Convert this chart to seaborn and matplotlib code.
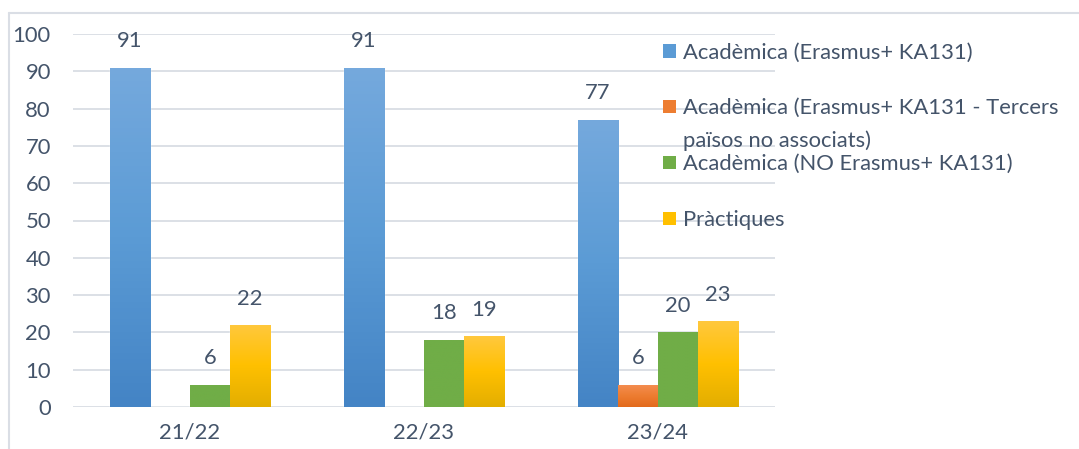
import numpy as np
import pandas as pd
import seaborn as sns
import matplotlib.pyplot as plt
from matplotlib.colors import LinearSegmentedColormap
from matplotlib.lines import Line2D
from matplotlib.patches import Rectangle

# data
cursos = ['21/22', '22/23', '23/24']
series = ['Acadèmica (Erasmus+ KA131)',
          'Acadèmica (Erasmus+ KA131 - Tercers\npaïsos no associats)',
          'Acadèmica (NO Erasmus+ KA131)',
          'Pràctiques']
erasmus = [91, 91, 77]
tercers = [0, 0, 6]
no_erasmus = [6, 18, 20]
practiques = [22, 19, 23]

## gradient colours (top -> bottom) like the excel bars ##
grads = [['#75a9dd', '#5b9bd5', '#4484c5'],
         ['#f48d52', '#ed7d31', '#e26a1c'],
         ['#70ad47', '#70ad47', '#70ad47'],
         ['#ffc83d', '#ffc000', '#e3ae00']]
txt_col = '#44546a'
fs = 15.8
W, H = 1079, 449

df = pd.DataFrame({
    'curs': cursos * 4,
    'tipus': [s for s in series for _ in cursos],
    'valor': erasmus + tercers + no_erasmus + practiques,
})

sns.set_style('white')
plt.rcParams['font.family'] = ['Lato', 'DejaVu Sans']

fig = plt.figure(figsize=(W / 100, H / 100), dpi=100)
ax = fig.add_axes([73 / W, 42 / H, (775 - 73) / W, (407 - 34) / H])

sns.barplot(data=df, x='curs', y='valor', hue='tipus', hue_order=series,
            palette=[g[1] for g in grads], width=0.684, gap=0, saturation=1,
            legend=False, ax=ax)

## paint gradients inside each bar and put the labels on top ##
for cont, g in zip(ax.containers, grads):
    cmap = LinearSegmentedColormap.from_list('g', g[::-1], N=256)
    for bar in cont:
        h = bar.get_height()
        if h <= 0:
            continue
        x0, w = bar.get_x(), bar.get_width()
        grad = np.linspace(1, 0, 100).reshape(-1, 1)
        im = ax.imshow(grad, extent=[x0, x0 + w, 0, h], aspect='auto',
                       cmap=cmap, zorder=bar.get_zorder() + 0.1)
        im.set_clip_path(bar)
        ax.annotate(f'{h:g}', (x0 + w / 2, h), xytext=(0, 19),
                    textcoords='offset points', ha='center', va='center',
                    fontsize=fs, color=txt_col, annotation_clip=False)

ax.set_xlim(-0.5, 2.5)
ax.set_ylim(0, 100)
ax.set_yticks(range(0, 101, 10))
ax.yaxis.grid(True, color='#d9dde4', lw=1.3)
ax.set_axisbelow(True)
sns.despine(ax=ax, left=True, bottom=True)
ax.tick_params(length=0, labelsize=fs, labelcolor=txt_col)
ax.tick_params(axis='y', pad=16)
ax.tick_params(axis='x', pad=11)
ax.set_xlabel('')
ax.set_ylabel('')

## legend drawn by hand so the marker sits on the first text line ##
for i, (lab, g) in enumerate(zip(series, grads)):
    yc = 51 + i * 55.7
    fig.add_artist(Rectangle((663 / W, 1 - (yc + 6.5) / H), 13 / W, 13 / H,
                             transform=fig.transFigure, color=g[1], lw=0))
    fig.text(683 / W, 1 - (yc - 8.5) / H, lab, ha='left', va='top',
             fontsize=fs, color=txt_col, linespacing=1.75)

## chart border (top and left only visible) ##
fig.add_artist(Line2D([8.5 / W, 1], [1 - 12.5 / H] * 2, transform=fig.transFigure,
                      color='#dadee5', lw=1.5))
fig.add_artist(Line2D([8.5 / W] * 2, [0, 1 - 12.5 / H], transform=fig.transFigure,
                      color='#dadee5', lw=1.5))

fig.savefig('out.png', dpi=100)
